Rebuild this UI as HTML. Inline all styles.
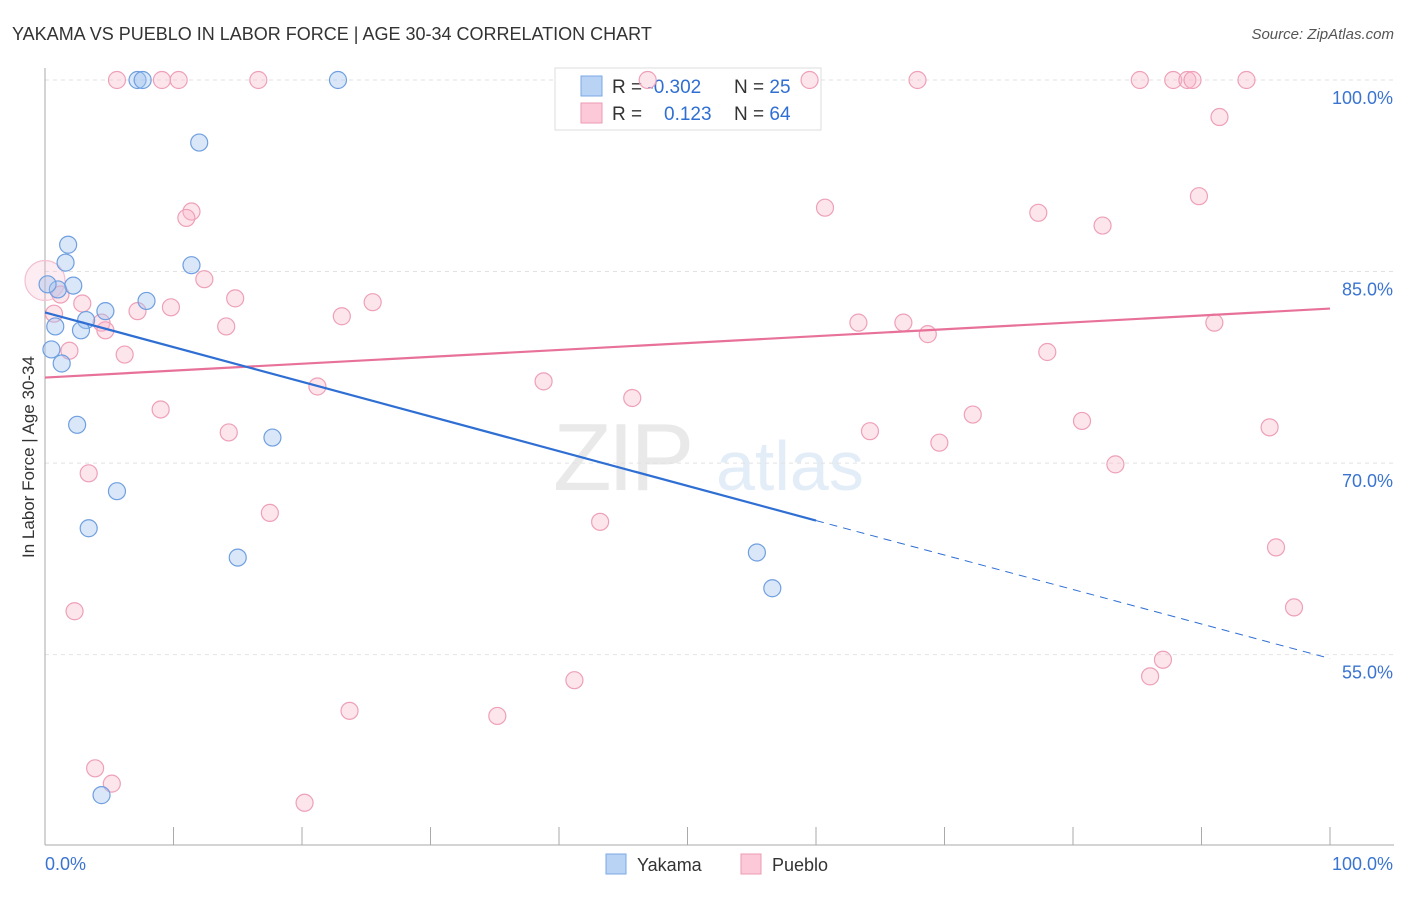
<!DOCTYPE html>
<html><head><meta charset="utf-8"><style>
body{margin:0;background:#fff;font-family:"Liberation Sans",sans-serif;}
svg text{font-family:"Liberation Sans",sans-serif;}
</style></head><body>
<svg id="chart" width="1406" height="892" xmlns="http://www.w3.org/2000/svg">
<text x="12" y="40" font-size="18" fill="#333">YAKAMA VS PUEBLO IN LABOR FORCE | AGE 30-34 CORRELATION CHART</text>
<text x="1394" y="39" font-size="15" fill="#555" text-anchor="end" font-style="italic">Source: ZipAtlas.com</text>
<g opacity="0.18"><text x="553" y="490" font-size="96" fill="#888" font-family="Liberation Serif" letter-spacing="-4">ZIP</text><text x="716" y="490" font-size="70" fill="#6a9fdc">atlas</text></g>
<g id="grid"></g>
<g>
<rect x="555" y="68" width="266" height="62" fill="#fff" stroke="#ddd"/>
<rect x="581" y="76" width="21" height="20" fill="#b9d3f5" stroke="#7aa7e6"/>
<rect x="581" y="103" width="21" height="20" fill="#fbc9d8" stroke="#ee9ab4"/>
<text x="612" y="93" font-size="19" fill="#333">R = <tspan fill="#2f6fd3">-0.302</tspan></text>
<text x="734" y="93" font-size="19" fill="#333">N = <tspan fill="#2f6fd3">25</tspan></text>
<text x="612" y="120" font-size="19" fill="#333">R = <tspan fill="#2f6fd3" x="664">0.123</tspan></text>
<text x="734" y="120" font-size="19" fill="#333">N = <tspan fill="#2f6fd3">64</tspan></text>
</g>
<g id="pts"></g><g id="lines"></g>
<text transform="translate(34,457) rotate(-90)" font-size="17" fill="#333" text-anchor="middle">In Labor Force | Age 30-34</text>
<g>
<rect x="606" y="854" width="20" height="20" fill="#b9d3f5" stroke="#7aa7e6"/><text x="637" y="871" font-size="18" fill="#333">Yakama</text>
<rect x="741" y="854" width="20" height="20" fill="#fbc9d8" stroke="#ee9ab4"/><text x="772" y="871" font-size="18" fill="#333">Pueblo</text>
</g>
</svg>
<script>
const yTicks=[100,85,70,55];
const yTickLabels=["100.0%","85.0%","70.0%","55.0%"];
const xTickCount=10;
const yakamaX=[7.2,7.6,22.8,12.0,1.8,1.6,11.4,2.2,1.0,0.2,7.9,4.7,3.2,0.8,2.8,0.5,1.3,2.5,17.7,5.6,3.4,15.0,55.4,56.6,4.4];
const yakamaY=[100,100,100,95.1,87.1,85.7,85.5,83.9,83.6,84.0,82.7,81.9,81.2,80.7,80.4,78.9,77.8,73.0,72.0,67.8,64.9,62.6,63.0,60.2,44.0];
const puebloX=[5.6,9.1,10.4,16.6,46.9,59.5,67.9,85.2,87.8,88.9,89.3,93.5,91.4,11.4,11.0,60.7,77.3,82.3,89.8,12.4,14.8,1.2,2.9,9.8,7.2,0.7,25.5,23.1,14.1,4.4,4.7,63.3,66.8,68.7,91.0,1.9,6.2,78.0,21.2,38.8,45.7,9.0,14.3,64.2,69.6,72.2,80.7,95.3,83.3,3.4,17.5,43.2,95.8,97.2,2.3,87.0,86.0,41.2,23.7,35.2,3.9,5.2,20.2,0];
const puebloY=[100,100,100,100,100,100,100,100,100,100,100,100,97.1,89.7,89.2,90.0,89.6,88.6,90.9,84.4,82.9,83.2,82.5,82.2,81.9,81.7,82.6,81.5,80.7,81.0,80.4,81.0,81.0,80.1,81.0,78.8,78.5,78.7,76.0,76.4,75.1,74.2,72.4,72.5,71.6,73.8,73.3,72.8,69.9,69.2,66.1,65.4,63.4,58.7,58.4,54.6,53.3,53.0,50.6,50.2,46.1,44.9,43.4,84.3];
const yakamaTrend=[81.8,65.5,54.7]; // at x=0,60,100
const puebloTrend=[76.7,82.1]; // at x=0,100
const NS="http://www.w3.org/2000/svg";
const X=v=>45+v*12.85, Y=v=>80+(100-v)*12.77;
function mk(tag,attrs,parent){const e=document.createElementNS(NS,tag);for(const k in attrs)e.setAttribute(k,attrs[k]);parent.appendChild(e);return e;}
const grid=document.getElementById('grid');
yTicks.forEach((t,i)=>{
 const l=mk('line',{x1:45,x2:1394,y1:Y(t),y2:Y(t),stroke:'#e2e2e2','stroke-dasharray':'4,4'},grid);
 
 
 const tx=mk('text',{x:1393,y:Y(t)+24,'font-size':18,fill:'#3a74d0','text-anchor':'end'},grid);tx.textContent=yTickLabels[i];
 
 
});
const ax=mk('line',{x1:45,x2:45,y1:68,y2:845,stroke:'#aaa'},grid);


const bx=mk('line',{x1:45,x2:1394,y1:845,y2:845,stroke:'#aaa'},grid);


for(let i=0;i<=xTickCount;i++){const x=X(i*100/xTickCount);const t=mk('line',{x1:x,x2:x,y1:827,y2:845,stroke:'#aaa'},grid);
 
 }
const x0=mk('text',{x:45,y:870,'font-size':18,fill:'#3a74d0'},grid);x0.textContent='0.0%';


const x1=mk('text',{x:1393,y:870,'font-size':18,fill:'#3a74d0','text-anchor':'end'},grid);x1.textContent='100.0%';


const pts=document.getElementById('pts');
puebloX.forEach((v,i)=>{const big=i===puebloX.length-1;const c=mk('circle',{cx:X(v),cy:Y(puebloY[i]),r:big?20:8.5,fill:big?'rgba(248,180,200,0.25)':'rgba(248,180,200,0.35)',stroke:big?'#f3c0d0':'#eea0b8','stroke-width':1.2},pts);
 
 });
yakamaX.forEach((v,i)=>{const c=mk('circle',{cx:X(v),cy:Y(yakamaY[i]),r:8.5,fill:'rgba(160,195,240,0.4)',stroke:'#6f9fe0','stroke-width':1.2},pts);
 
 });
const lines=document.getElementById('lines');
const pl=mk('line',{x1:X(0),y1:Y(puebloTrend[0]),x2:X(100),y2:Y(puebloTrend[1]),stroke:'#e8719a','stroke-width':2.2},lines);


const yl=mk('line',{x1:X(0),y1:Y(yakamaTrend[0]),x2:X(60),y2:Y(yakamaTrend[1]),stroke:'#2f6fd3','stroke-width':2.2},lines);


const yd=mk('line',{x1:X(60),y1:Y(yakamaTrend[1]),x2:X(100),y2:Y(yakamaTrend[2]),stroke:'#2f6fd3','stroke-width':1,'stroke-dasharray':'8,6'},lines);


</script>
</body></html>
